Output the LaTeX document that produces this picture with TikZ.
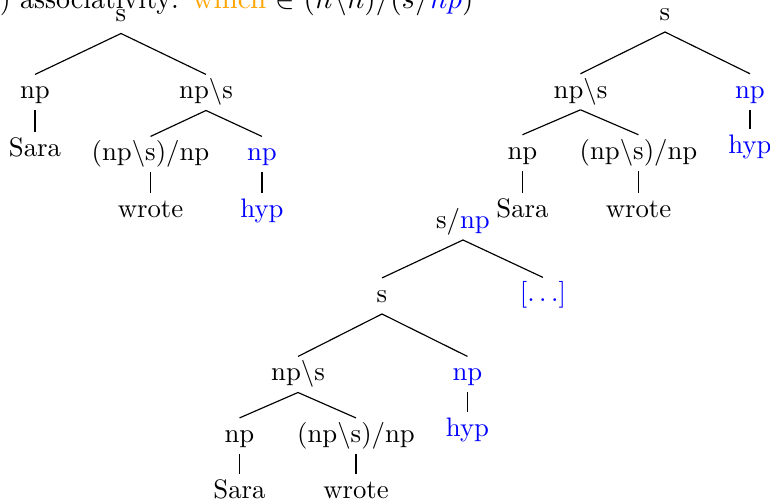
\documentclass[tikz,border=0pt]{standalone}
\usepackage{xcolor}
\definecolor{hdorange}{RGB}{255,165,0}
\definecolor{hyblue}{RGB}{0,0,255}
\begin{document}
\begin{tikzpicture}[x=0.343pt,y=-0.343pt,
  lbl/.style={anchor=base,inner sep=0pt,scale=0.918,text height=8.97pt,text depth=4.1pt},
  hy/.style={lbl,text=hyblue},
  edge/.style={draw=black,line width=0.4pt}]
\useasboundingbox (0,0) rectangle (770,502);
% heading (cropped at top)
\node[anchor=base east,inner sep=0pt,xscale=0.96] (headA) at (179.5,9) {(i) associativity:};
\node[anchor=base west,inner sep=0pt] (headB) at (192,9)
  {\textcolor{hdorange}{which} $\in (n\backslash n)/(s/\textcolor{hyblue}{np})$};
% ---- tree 1 ----
\node[lbl] (a0) at (121,22) {s};
\node[lbl] (a1) at (35,99) {np};
\node[lbl] (a2) at (206,99) {np$\backslash$s};
\node[lbl] (a3) at (35,157) {Sara};
\node[lbl] (a4) at (150.5,161) {(np$\backslash$s)/np};
\node[hy]  (a5) at (262,161) {np};
\node[lbl] (a6) at (150.5,218) {wrote};
\node[hy]  (a7) at (262,218) {hyp};
\draw[edge] (a0.south) -- (a1.north);
\draw[edge] (a0.south) -- (a2.north);
\draw[edge] (a1.south) -- (a1.south |- a3.north);
\draw[edge] (a2.south) -- (a4.north);
\draw[edge] (a2.south) -- (a5.north);
\draw[edge] (a4.south) -- (a4.south |- a6.north);
\draw[edge] (a5.south) -- (a5.south |- a7.north);
% ---- tree 2 ----
\node[lbl] (b0) at (665,20.5) {s};
\node[lbl] (b1) at (580.5,98.3) {np$\backslash$s};
\node[hy]  (b2) at (750,98.3) {np};
\node[lbl] (b3) at (522.5,159.3) {np};
\node[lbl] (b4) at (638.5,159.3) {(np$\backslash$s)/np};
\node[hy]  (b5) at (750,153.5) {hyp};
\node[lbl] (b6) at (522.5,218) {Sara};
\node[lbl] (b7) at (638.5,218) {wrote};
\draw[edge] (b0.south) -- (b1.north);
\draw[edge] (b0.south) -- (b2.north);
\draw[edge] (b1.south) -- (b3.north);
\draw[edge] (b1.south) -- (b4.north);
\draw[edge] (b2.south) -- (b2.south |- b5.north);
\draw[edge] (b3.south) -- (b3.south |- b6.north);
\draw[edge] (b4.south) -- (b4.south |- b7.north);
% ---- tree 3 ----
\node[lbl] (c0) at (463,228.5) {s/\textcolor{hyblue}{np}};
\node[lbl] (c1) at (382,302.5) {s};
\node[hy]  (c2) at (543,302) {$[\ldots]$};
\node[lbl] (c3) at (298,381) {np$\backslash$s};
\node[hy]  (c4) at (467.5,381) {np};
\node[lbl] (c5) at (239.5,442.5) {np};
\node[lbl] (c6) at (356,442.5) {(np$\backslash$s)/np};
\node[hy]  (c7) at (467.5,436.5) {hyp};
\node[lbl] (c8) at (239.5,499) {Sara};
\node[lbl] (c9) at (356,499) {wrote};
\draw[edge] (c0.south) -- (c1.north);
\draw[edge] (c0.south) -- (c2.north);
\draw[edge] (c1.south) -- (c3.north);
\draw[edge] (c1.south) -- (c4.north);
\draw[edge] (c3.south) -- (c5.north);
\draw[edge] (c3.south) -- (c6.north);
\draw[edge] (c4.south) -- (c4.south |- c7.north);
\draw[edge] (c5.south) -- (c5.south |- c8.north);
\draw[edge] (c6.south) -- (c6.south |- c9.north);
\end{tikzpicture}
\end{document}
